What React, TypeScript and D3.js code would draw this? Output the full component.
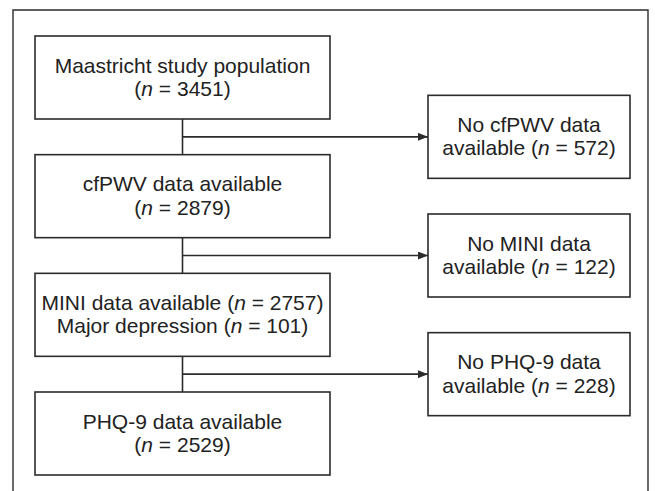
import { useEffect, useRef } from 'react';
import * as d3 from 'd3';

// flow of participants through the study
const includedLabels = ['Maastricht study population', 'cfPWV data available', 'MINI data available', 'PHQ-9 data available'];
const includedN = [3451, 2879, 2757, 2529];
const excludedLabels = ['No cfPWV data', 'No MINI data', 'No PHQ-9 data'];
const excludedN = [572, 122, 228];
const subgroupLabel = 'Major depression';
const subgroupN = 101;

const W = 655;
const H = 491;

export default function App() {
  const svgRef = useRef<SVGSVGElement>(null);

  useEffect(() => {
    if (!svgRef.current) return;
    const svg = d3.select(svgRef.current);
    svg.selectAll('*').remove();

    const ink = '#2b2b2b';
    const font = '"Liberation Sans", Arial, Helvetica, sans-serif';
    const fontSize = 21;

    const leftBox = { x0: 35, x1: 330 };
    const rightBox = { x0: 428, x1: 630 };
    const boxH = 83;

    const yMain = d3.scaleLinear().domain([0, includedLabels.length - 1]).range([36, 392]);
    const branchY = (i: number) => (yMain(i) + boxH + yMain(i + 1)) / 2;

    svg
      .append('defs')
      .append('marker')
      .attr('id', 'arrow')
      .attr('viewBox', '0 0 10 8')
      .attr('refX', 10)
      .attr('refY', 4)
      .attr('markerWidth', 10)
      .attr('markerHeight', 8)
      .attr('markerUnits', 'userSpaceOnUse')
      .attr('orient', 'auto')
      .append('path')
      .attr('d', 'M0,0 L10,4 L0,8 Z')
      .attr('fill', ink);

    // outer frame (open at the bottom)
    svg
      .append('path')
      .attr('d', `M13,${H} V10 H648 V${H}`)
      .attr('fill', 'none')
      .attr('stroke', ink)
      .attr('stroke-width', 1.4);

    const cx = (leftBox.x0 + leftBox.x1) / 2;

    // vertical connectors
    includedLabels.slice(1).forEach((_, i) => {
      svg
        .append('line')
        .attr('x1', cx)
        .attr('x2', cx)
        .attr('y1', yMain(i) + boxH)
        .attr('y2', yMain(i + 1))
        .attr('stroke', ink)
        .attr('stroke-width', 1.6);
    });

    // branches to exclusions
    excludedLabels.forEach((_, i) => {
      svg
        .append('line')
        .attr('x1', cx)
        .attr('x2', rightBox.x0)
        .attr('y1', branchY(i))
        .attr('y2', branchY(i))
        .attr('stroke', ink)
        .attr('stroke-width', 1.6)
        .attr('marker-end', 'url(#arrow)');
    });

    const writeLine = (
      g: d3.Selection<SVGGElement, unknown, null, undefined>,
      x: number,
      y: number,
      prefix: string,
      n: number | null
    ) => {
      const t = g
        .append('text')
        .attr('x', x)
        .attr('y', y)
        .attr('text-anchor', 'middle')
        .attr('font-family', font)
        .attr('font-size', fontSize)
        .attr('fill', '#222');
      if (n === null) {
        t.text(prefix);
        return;
      }
      t.append('tspan').text(`${prefix}(`);
      t.append('tspan').attr('font-style', 'italic').text('n');
      t.append('tspan').text(` = ${n})`);
    };

    const drawBox = (x0: number, x1: number, y0: number, lines: Array<[string, number | null]>) => {
      const g = svg.append('g');
      g.append('rect')
        .attr('x', x0)
        .attr('y', y0)
        .attr('width', x1 - x0)
        .attr('height', boxH)
        .attr('fill', '#fff')
        .attr('stroke', ink)
        .attr('stroke-width', 1.6);
      const cy = y0 + boxH / 2;
      const mx = (x0 + x1) / 2;
      lines.forEach((ln, j) => writeLine(g, mx, cy - 5 + j * 23.5, ln[0], ln[1]));
    };

    includedLabels.forEach((label, i) => {
      const lines: Array<[string, number | null]> =
        i === 2
          ? [
              [`${label} `, includedN[i]],
              [`${subgroupLabel} `, subgroupN],
            ]
          : [
              [label, null],
              ['', includedN[i]],
            ];
      drawBox(leftBox.x0, leftBox.x1, yMain(i), lines);
    });

    excludedLabels.forEach((label, i) => {
      drawBox(rightBox.x0, rightBox.x1, branchY(i) - boxH / 2, [
        [label, null],
        ['available ', excludedN[i]],
      ]);
    });
  }, []);

  return (
    <svg
      ref={svgRef}
      width={W}
      height={H}
      style={{ position: 'absolute', left: 0, top: 0, background: '#fff' }}
    />
  );
}
